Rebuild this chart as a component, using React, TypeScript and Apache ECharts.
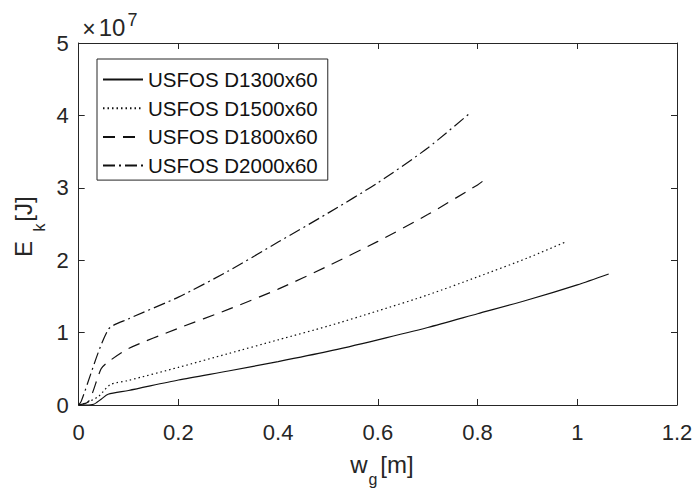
import React, { useEffect, useRef } from "react";
import * as echarts from "echarts";

// Values (E_k in units of 1e7 J, w_g in m)
const names = ["USFOS D1300x60", "USFOS D1500x60", "USFOS D1800x60", "USFOS D2000x60"];

const x1300 = [0, 0.015, 0.03, 0.045, 0.059, 0.1, 0.2, 0.3, 0.4, 0.5, 0.6, 0.7, 0.8, 0.9, 1.0, 1.063];
const y1300 = [0, 0.0, 0.01, 0.08, 0.148, 0.2, 0.345, 0.47, 0.6, 0.74, 0.9, 1.07, 1.26, 1.45, 1.66, 1.81];

const x1500 = [0, 0.015, 0.04, 0.063, 0.1, 0.2, 0.3, 0.4, 0.5, 0.6, 0.7, 0.8, 0.9, 0.979];
const y1500 = [0, 0.03, 0.12, 0.28, 0.34, 0.52, 0.71, 0.9, 1.09, 1.3, 1.52, 1.77, 2.03, 2.26];

const x1800 = [0, 0.02, 0.045, 0.06, 0.1, 0.2, 0.3, 0.4, 0.5, 0.6, 0.7, 0.8, 0.81];
const y1800 = [0, 0.05, 0.5, 0.6, 0.78, 1.06, 1.32, 1.6, 1.92, 2.26, 2.63, 3.04, 3.09];

const x2000 = [0, 0.005, 0.059, 0.1, 0.2, 0.3, 0.4, 0.5, 0.6, 0.7, 0.786];
const y2000 = [0, 0.05, 1.04, 1.19, 1.49, 1.85, 2.25, 2.65, 3.07, 3.55, 4.04];

const xTicks = { min: 0, max: 1.2, interval: 0.2 };
const yTicks = { min: 0, max: 5, interval: 1 };

const FONT = '"Liberation Sans", Arial, Helvetica, sans-serif';
const AX = "#262626";

const pairs = (xs: number[], ys: number[]) => xs.map((x, i) => [x, ys[i]]);

export default function App() {
  const ref = useRef<HTMLDivElement>(null);
  useEffect(() => {
    if (!ref.current) return;
    const chart = echarts.init(ref.current, undefined, { renderer: "svg" });
    const dashes: any[] = ["solid", [1.5, 3], [12, 8], [12, 4, 2, 4]];
    const datas = [pairs(x1300, y1300), pairs(x1500, y1500), pairs(x1800, y1800), pairs(x2000, y2000)];
    const axisCommon = {
      axisLine: { show: true, onZero: false, lineStyle: { color: AX, width: 1 } },
      axisTick: { show: true, inside: true, length: 6, lineStyle: { color: AX } },
      splitLine: { show: false },
    };
    chart.setOption({
      animation: false,
      backgroundColor: "#fff",
      grid: { left: 78.7, right: 23, top: 43, bottom: 92 },
      xAxis: [
        {
          type: "value", position: "bottom", ...xTicks, ...axisCommon,
          axisLabel: { fontSize: 22, color: AX, fontFamily: FONT, margin: 16 },
        },
        {
          type: "value", position: "top", ...xTicks, ...axisCommon,
          axisLabel: { show: false },
        },
      ],
      yAxis: [
        {
          type: "value", position: "left", ...yTicks, ...axisCommon,
          axisLabel: { fontSize: 22, color: AX, fontFamily: FONT, margin: 10 },
        },
        {
          type: "value", position: "right", ...yTicks, ...axisCommon,
          axisLabel: { show: false },
        },
      ],
      legend: {
        data: names,
        orient: "vertical",
        left: 97,
        top: 59,
        padding: [10, 10, 4, 5],
        itemWidth: 40,
        itemHeight: 20,
        itemGap: 7.7,
        borderColor: AX,
        borderWidth: 1,
        backgroundColor: "#fff",
        itemStyle: { opacity: 0, borderWidth: 0 },
        textStyle: { fontSize: 20.5, color: "#111", fontFamily: FONT },
      },
      series: names.map((n, i) => ({
        name: n,
        type: "line",
        xAxisIndex: 0,
        yAxisIndex: 0,
        data: datas[i],
        symbol: "none",
        showSymbol: false,
        smooth: 0.25,
        lineStyle: { color: "#111", width: 1.2, type: dashes[i] },
        itemStyle: { color: "#111" },
      })),
      graphic: [
        // x-axis name w_g[m]
        { type: "text", x: 359, y: 464.6, style: { text: "w", fontSize: 24, fontFamily: FONT, fill: AX, align: "center", verticalAlign: "middle" } },
        { type: "text", x: 373, y: 479.4, style: { text: "g", fontSize: 16, fontFamily: FONT, fill: AX, align: "center", verticalAlign: "middle" } },
        { type: "text", x: 397, y: 464.6, style: { text: "[m]", fontSize: 24, fontFamily: FONT, fill: AX, align: "center", verticalAlign: "middle" } },
        // y-axis name E_k[J]
        { type: "text", x: 23.6, y: 249, rotation: Math.PI / 2, style: { text: "E", fontSize: 24, fontFamily: FONT, fill: AX, align: "center", verticalAlign: "middle" } },
        { type: "text", x: 39.4, y: 227.5, rotation: Math.PI / 2, style: { text: "k", fontSize: 16, fontFamily: FONT, fill: AX, align: "center", verticalAlign: "middle" } },
        { type: "text", x: 23.6, y: 209, rotation: Math.PI / 2, style: { text: "[J]", fontSize: 24, fontFamily: FONT, fill: AX, align: "center", verticalAlign: "middle" } },
        // exponent ×10^7
        { type: "text", x: 89, y: 29, style: { text: "×", fontSize: 23, fontFamily: FONT, fill: AX, align: "center", verticalAlign: "middle" } },
        { type: "text", x: 112, y: 27.5, style: { text: "10", fontSize: 24, fontFamily: FONT, fill: AX, align: "center", verticalAlign: "middle" } },
        { type: "text", x: 132.5, y: 20, style: { text: "7", fontSize: 18, fontFamily: FONT, fill: AX, align: "center", verticalAlign: "middle" } },
      ],
    });
    return () => chart.dispose();
  }, []);
  return <div ref={ref} style={{ width: 700, height: 497, position: "absolute", left: 0, top: 0 }} />;
}
